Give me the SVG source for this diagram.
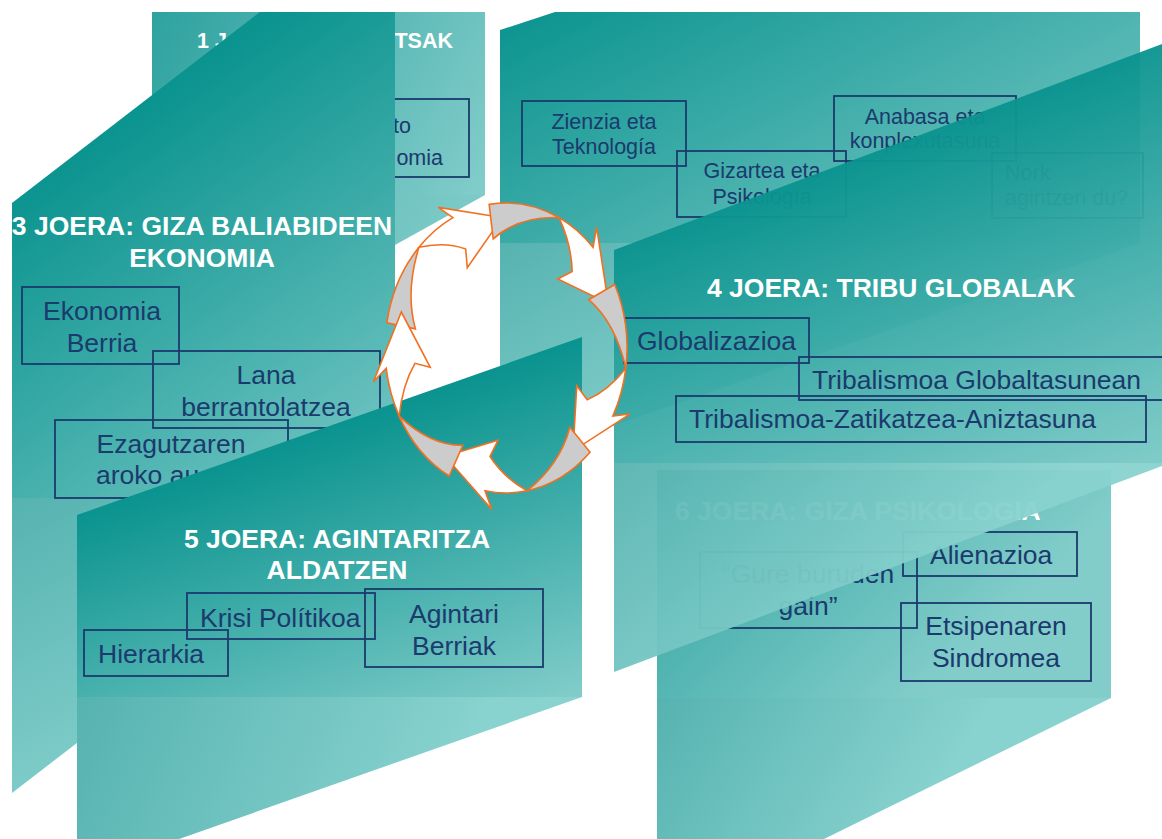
<svg xmlns="http://www.w3.org/2000/svg" width="1162" height="839" viewBox="0 0 1162 839">
<style>
.t{font-family:"Liberation Sans",Arial,sans-serif;font-weight:bold;font-size:26.5px;fill:#ffffff}
.b{font-family:"Liberation Sans",Arial,sans-serif;font-size:26.5px;fill:#1b3a6d}
.s{font-size:21.5px}
.m{text-anchor:middle}
.e{text-anchor:end}
.bx{fill:none;stroke:#1b3a6d;stroke-width:1.8}
.ag{fill:#cccccc;stroke:#f37021;stroke-width:1.6;vector-effect:non-scaling-stroke;stroke-linejoin:miter}
.aw{fill:#ffffff;stroke:#f37021;stroke-width:1.6;vector-effect:non-scaling-stroke;stroke-linejoin:miter}
.tr{fill-opacity:0.95}
</style>
<defs>
<linearGradient id="gU"><stop offset="0" stop-color="#0a938f"/><stop offset="1" stop-color="#82cdca"/></linearGradient>
<linearGradient id="gL"><stop offset="0" stop-color="#56b3b0"/><stop offset="1" stop-color="#88d2cf"/></linearGradient>
<linearGradient id="gB"><stop offset="0" stop-color="#2ea29f"/><stop offset="1" stop-color="#82cdca"/></linearGradient>
<linearGradient id="p1u" href="#gB" gradientUnits="userSpaceOnUse" x1="152" y1="12" x2="485" y2="195"/>
<linearGradient id="p1l" href="#gL" gradientUnits="userSpaceOnUse" x1="152" y1="195" x2="485" y2="378"/>
<linearGradient id="p2u" href="#gU" gradientUnits="userSpaceOnUse" x1="500" y1="12" x2="740" y2="470"/>
<linearGradient id="p2l" href="#gL" gradientUnits="userSpaceOnUse" x1="500" y1="243" x2="640" y2="480"/>
<linearGradient id="p6u" href="#gB" gradientUnits="userSpaceOnUse" x1="657" y1="470" x2="900" y2="720"/>
<linearGradient id="p6l" href="#gL" gradientUnits="userSpaceOnUse" x1="657" y1="698" x2="900" y2="850"/>
<linearGradient id="p3u" href="#gU" gradientUnits="userSpaceOnUse" x1="130" y1="110" x2="420" y2="520"/>
<linearGradient id="p3l" href="#gL" gradientUnits="userSpaceOnUse" x1="12" y1="498" x2="160" y2="800"/>
<linearGradient id="p4u" href="#gU" gradientUnits="userSpaceOnUse" x1="890" y1="147" x2="1038" y2="540"/>
<linearGradient id="p4l" href="#gL" gradientUnits="userSpaceOnUse" x1="614" y1="463" x2="800" y2="690"/>
<linearGradient id="p5u" href="#gU" gradientUnits="userSpaceOnUse" x1="330" y1="426" x2="442" y2="746"/>
<linearGradient id="p5l" href="#gL" gradientUnits="userSpaceOnUse" x1="77" y1="697" x2="420" y2="850"/>
<g id="arw">
<path class="ag" d="M100,0 A100,100 0 0 1 82.90,55.92 Q88.85,23.5 76,0 Z"/>
<path class="aw" d="M82.90,55.92 A100,100 0 0 1 58.78,80.90 L71.99,85.79 L18.71,88.03 L41.14,49.02 L44.67,61.48 Q62.81,63.56 82.90,55.92 Z"/>
</g>
</defs>
<rect width="1162" height="839" fill="#ffffff"/>

<g id="panel1">
<polygon points="152,12 485,12 485,195 152,195" fill="url(#p1u)"/>
<polygon points="152,195 485,195 152,380" fill="url(#p1l)"/>
<text class="t s" x="197" y="48">1 J</text>
<text class="t s e" x="453" y="48">TSAK</text>
<g id="box1a"><rect class="bx" x="300" y="99" width="169" height="78"/>
<text class="b s e" x="411" y="133">to</text>
<text class="b s e" x="443" y="165">omia</text></g>
</g>

<g id="panel2">
<polygon points="500,30 555,12 1140,12 1140,243 500,243" fill="url(#p2u)"/>
<polygon points="500,243 1140,243 500,465" fill="url(#p2l)"/>
<g id="box2a"><rect class="bx" x="522" y="101" width="164" height="65"/>
<text class="b s m" x="604" y="129">Zienzia eta</text>
<text class="b s m" x="604" y="154">Teknología</text></g>
<g id="box2b"><rect class="bx" x="677" y="151" width="169" height="66"/>
<text class="b s m" x="762" y="178">Gizartea eta</text>
<text class="b s m" x="762" y="204">Psikología</text></g>
<g id="box2c"><rect class="bx" x="834" y="96" width="182" height="65"/>
<text class="b s m" x="925" y="124">Anabasa eta</text>
<text class="b s m" x="925" y="148">konplexutasuna</text></g>
<g id="box2d"><rect class="bx" x="992" y="153" width="151" height="65"/>
<text class="b s" x="1005" y="180">Nork</text>
<text class="b s" x="1005" y="205">agintzen du?</text></g>
</g>

<g id="panel6">
<polygon points="657,470 1111,470 1111,698 657,698" fill="url(#p6u)"/>
<polygon points="657,698 1111,698 657,921" fill="url(#p6l)"/>
<text class="t" x="675" y="520">6 JOERA: GIZA PSIKOLOGIA</text>
<g id="box6a"><rect class="bx" x="903" y="532" width="174" height="44"/>
<text class="b" x="930" y="564">Alienazioa</text></g>
<g id="box6b"><rect class="bx" x="700" y="552" width="217" height="76"/>
<text class="b m" x="808" y="583">“Gure buruden</text>
<text class="b m" x="808" y="615">gain”</text></g>
<g id="box6c"><rect class="bx" x="901" y="603" width="190" height="78"/>
<text class="b m" x="996" y="635">Etsipenaren</text>
<text class="b m" x="996" y="667">Sindromea</text></g>
</g>

<g id="panel3">
<polygon points="12,203 260,12 395,12 395,498 12,498" fill="url(#p3u)"/>
<polygon points="12,498 395,498 12,793" fill="url(#p3l)"/>
<text class="t m" x="202" y="235">3 JOERA: GIZA BALIABIDEEN</text>
<text class="t m" x="202" y="267">EKONOMIA</text>
<g id="box3a"><rect class="bx" x="22" y="287" width="157" height="77"/>
<text class="b m" x="102" y="320">Ekonomia</text>
<text class="b m" x="102" y="352">Berria</text></g>
<g id="box3b"><rect class="bx" x="153" y="351" width="227" height="77"/>
<text class="b m" x="266" y="384">Lana</text>
<text class="b m" x="266" y="416">berrantolatzea</text></g>
<g id="box3c"><rect class="bx" x="55" y="420" width="233" height="78"/>
<text class="b m" x="171" y="453">Ezagutzaren</text>
<text class="b" x="96" y="484">aroko au</text></g>
</g>

<g id="panel4">
<polygon class="tr" points="614,250 1170,41 1170,463 614,463" fill="url(#p4u)"/>
<polygon class="tr" points="614,463 1170,463 614,672" fill="url(#p4l)"/>
<text class="t m" x="891" y="297">4 JOERA: TRIBU GLOBALAK</text>
<g id="box4a"><rect class="bx" x="624" y="318" width="185" height="45"/>
<text class="b" x="637" y="350">Globalizazioa</text></g>
<g id="box4b"><rect class="bx" x="799" y="357" width="375" height="43"/>
<text class="b" x="812" y="389">Tribalismoa Globaltasunean</text></g>
<g id="box4c"><rect class="bx" x="676" y="396" width="470" height="46"/>
<text class="b" x="689" y="428">Tribalismoa-Zatikatzea-Aniztasuna</text></g>
</g>

<g id="panel5">
<polygon points="77,515 582,337 582,697 77,697" fill="url(#p5u)"/>
<polygon points="77,697 582,697 77,875" fill="url(#p5l)"/>
<text class="t m" x="337" y="548">5 JOERA: AGINTARITZA</text>
<text class="t m" x="337" y="579">ALDATZEN</text>
<g id="box5a"><rect class="bx" x="187" y="593" width="188" height="46"/>
<text class="b" x="200" y="627">Krisi Polítikoa</text></g>
<g id="box5b"><rect class="bx" x="84" y="630" width="144" height="46"/>
<text class="b" x="98" y="663">Hierarkia</text></g>
<g id="box5c"><rect class="bx" x="365" y="589" width="178" height="78"/>
<text class="b m" x="454" y="623">Agintari</text>
<text class="b m" x="454" y="655">Berriak</text></g>
</g>

<g id="cycle">
<use href="#arw" transform="translate(506 348) scale(1.21 1.45) rotate(190)"/>
<use href="#arw" transform="translate(506 348) scale(1.21 1.45) rotate(262)"/>
<use href="#arw" transform="translate(506 348) scale(1.21 1.45) rotate(334)"/>
<use href="#arw" transform="translate(506 348) scale(1.21 1.45) rotate(46)"/>
<use href="#arw" transform="translate(506 348) scale(1.21 1.45) rotate(118)"/>
</g>
</svg>
